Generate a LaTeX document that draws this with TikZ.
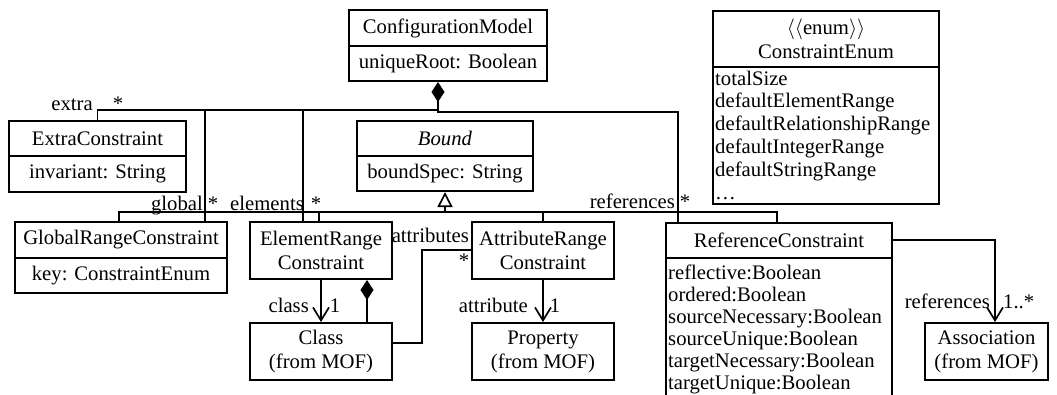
\documentclass[tikz,border=0pt]{standalone}
\usepackage{fontspec}
\setmainfont{Liberation Serif}
\usetikzlibrary{arrows.meta,calc}
\begin{document}
\begin{tikzpicture}[x=1pt,y=-1pt,
  every node/.style={font=\fontsize{20.7}{24}\selectfont, inner sep=0pt},
  umlbox/.style={draw, line width=2pt, align=center},
  conn/.style={line width=1.7pt},
  comp/.style={conn, {Diamond[length=20pt,width=13pt]}-},
  inh/.style={conn, {Triangle[open,length=15pt,width=15pt]}-},
  nav/.style={conn, -{Straight Barb[length=13pt,width=16pt]}},
  lbl/.style={anchor=base east},
  lblr/.style={anchor=base west}]
\useasboundingbox (0,0) rectangle (1057,394);
\clip (0,0) rectangle (1057,394);

% ---- boxes
\node[umlbox, minimum width=198pt, minimum height=36pt] (cmh) at (448,28) {ConfigurationModel};
\node[umlbox, minimum width=198pt, minimum height=35pt] (cmb) at (448,63.5) {uniqueRoot: Boolean};

\node[umlbox, minimum width=177pt, minimum height=35pt] (ech) at (97.5,138.5) {ExtraConstraint};
\node[umlbox, minimum width=177pt, minimum height=36pt] (ecb) at (97.5,174) {invariant: String};

\node[umlbox, minimum width=176pt, minimum height=35pt] (bh) at (445,138.5) {\textit{Bound}};
\node[umlbox, minimum width=176pt, minimum height=35pt] (bb) at (445,173.5) {boundSpec: String};

\node[umlbox, minimum width=226pt, minimum height=56pt] (enh) at (826,39) {$\langle\langle$enum$\rangle\rangle$\\ConstraintEnum};
\node[umlbox, minimum width=226pt, minimum height=137pt] (enb) at (826,135.5) {};
\foreach \t [count=\i from 0] in {totalSize,defaultElementRange,defaultRelationshipRange,defaultIntegerRange,defaultStringRange,\dots}
  \node[anchor=base west] (enl\i) at (715,85+22.8*\i) {\t};

\node[umlbox, minimum width=212pt, minimum height=36pt] (grh) at (121,240) {GlobalRangeConstraint};
\node[umlbox, minimum width=212pt, minimum height=35pt] (grb) at (121,275.5) {key: ConstraintEnum};

\node[umlbox, minimum width=142pt, minimum height=57pt] (er) at (321,250.5) {ElementRange\\Constraint};
\node[umlbox, minimum width=142pt, minimum height=57pt] (ar) at (543,250.5) {AttributeRange\\Constraint};

\node[umlbox, minimum width=226pt, minimum height=35pt] (rch) at (779,240.5) {ReferenceConstraint};
\node[umlbox, minimum width=226pt, minimum height=170pt] (rcb) at (779,343) {};
\foreach \t [count=\i from 0] in {reflective:Boolean,ordered:Boolean,sourceNecessary:Boolean,sourceUnique:Boolean,targetNecessary:Boolean,targetUnique:Boolean}
  \node[anchor=base west] (rcl\i) at (668,279+22*\i) {\t};

\node[umlbox, minimum width=142pt, minimum height=57pt] (cls) at (321,351.5) {Class\\(from MOF)};
\node[umlbox, minimum width=142pt, minimum height=57pt] (prop) at (543,351.5) {Property\\(from MOF)};
\node[umlbox, minimum width=123pt, minimum height=57pt] (assoc) at (986.5,351.5) {Association\\(from MOF)};

% ---- composition from ConfigurationModel
\coordinate (dC) at ($(cmb.south)+(-10,0)$);
\coordinate (jL) at (438,110);
\coordinate (rTop) at (678,112);
\coordinate (gTop) at (205,110);
\coordinate (eTop) at (303,110);
\draw[comp] (dC) -- (jL);
\draw[conn] (jL) -| (ech.north);
\draw[conn] (jL) |- (rTop) -- (rTop |- rch.north);
\draw[conn] (gTop) -- (gTop |- grh.north);
\draw[conn] (eTop) -- (eTop |- er.north);

% ---- generalization to Bound
\coordinate (gen) at (445,212);
\coordinate (gL) at (119,212);
\coordinate (gR) at (777,212);
\draw[inh] (bb.south) -- (gen);
\draw[conn] (gL |- grh.north) -- (gL) -- (gR) -- (gR |- rch.north);
\draw[conn] (er.north -| 319,0) -- (319,212);
\draw[conn] (ar.north) -- (ar.north |- gen);

% ---- lower associations
\draw[nav] (er.south) -- (cls.north);
\coordinate (dE) at ($(er.south)+(46,0)$);
\draw[comp] (dE) -- (dE |- cls.north);
\coordinate (aB) at (422,343);
\coordinate (aT) at (422,250);
\draw[conn] (aB -| cls.east) -- (aB) -- (aT) -- (aT -| ar.west);
\draw[nav] (ar.south) -- (prop.north);
\coordinate (rA) at (995,240);
\draw[nav] (rA -| rch.east) -- (rA) -- (rA |- assoc.north);

% ---- labels
\node[lbl] (lextra) at (93,110) {extra};
\node[anchor=base] (sextra) at (118,110) {*};
\node[lbl] (lglobal) at (203,210) {global};
\node[anchor=base] (sglobal) at (213,210) {*};
\node[lbl] (lelem) at (304,210) {elements};
\node[anchor=base] (selem) at (316,210) {*};
\node[lbl] (lref) at (675,208) {references};
\node[anchor=base] (sref) at (685,208) {*};
\node[lbl] (lclass) at (309,312) {class};
\node[anchor=base] (oclass) at (335,312) {1};
\node[lbl] (lattr) at (528,312) {attribute};
\node[anchor=base] (oattr) at (555,312) {1};
\node[lbl] (lattrs) at (469,242) {attributes};
\node[anchor=base] (sattrs) at (464,267) {*};
\node[lbl] (lrefs) at (990,308) {references};
\node[lblr] (orefs) at (1003,308) {1..*};
\end{tikzpicture}
\end{document}
